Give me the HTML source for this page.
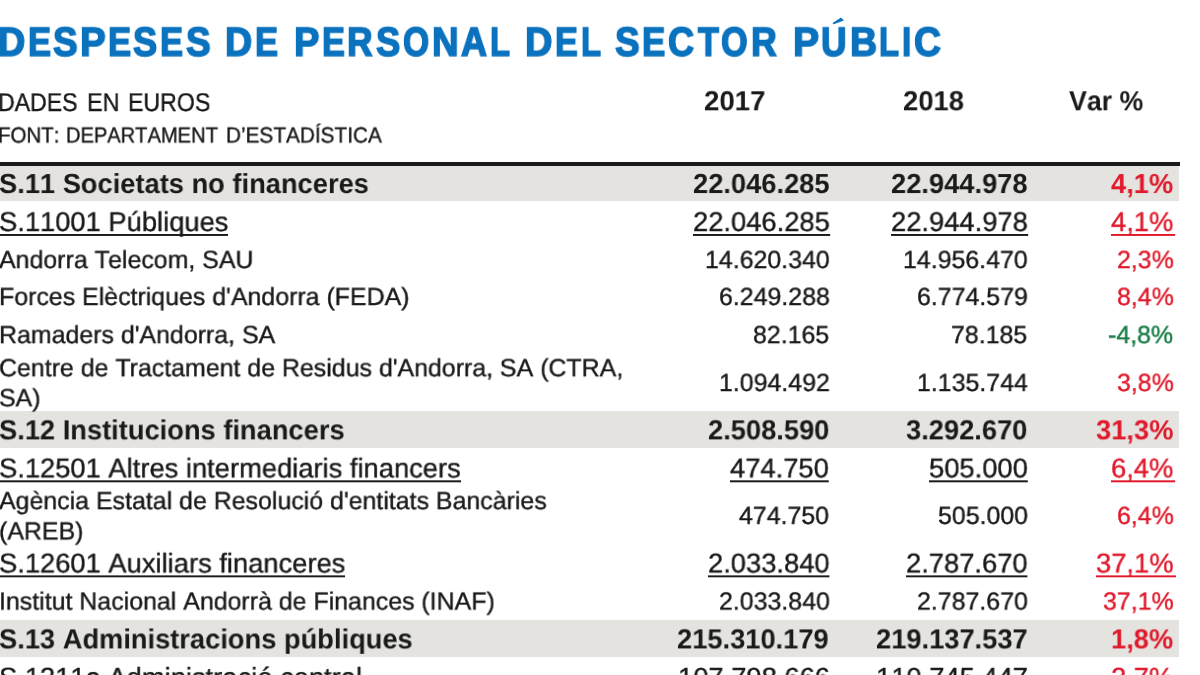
<!DOCTYPE html>
<html lang="ca">
<head>
<meta charset="utf-8">
<title>Despeses de personal del sector públic</title>
<style>
html,body{margin:0;padding:0;}
body{width:1200px;height:675px;overflow:hidden;background:#fff;position:relative;
font-family:"Liberation Sans",sans-serif;color:#1a1a1a;font-kerning:none;text-rendering:geometricPrecision;}
.t{position:absolute;white-space:nowrap;font-weight:400;transform-origin:0 0;will-change:transform;}
.t{-webkit-text-stroke:0.4px currentColor;}
.b{font-weight:700;-webkit-text-stroke:0;}
.u{border-bottom:2px solid currentColor;}
.band{position:absolute;left:0;width:1178.7px;background:#e4e3e0;}
.rule{position:absolute;left:0;width:1179.5px;background:#1a1a1a;}
</style>
</head>
<body>
<div role="heading" aria-level="1" aria-label="DESPESES DE PERSONAL DEL SECTOR PÚBLIC">
<svg class="acc" width="16" height="12" viewBox="830 15 16 12" style="position:absolute;left:830px;top:15px"><polygon points="832.5,23.1 841.1,17.5 843.9,20.6 833.7,24.3" fill="#0b72be"/></svg>
<div class="t b" style="left:-2.00px;top:21px;font-size:40.8px;line-height:40.8px;transform:translateY(0.70px) scale(0.9216,1.0000);color:#0b72be;-webkit-text-stroke:1.6px #0b72be;text-shadow:0.62px 0 0 #0b72be,-0.62px 0 0 #0b72be;">D</div>
<div class="t b" style="left:28.11px;top:21px;font-size:40.8px;line-height:40.8px;transform:translateY(0.70px) scale(0.8394,1.0000);color:#0b72be;-webkit-text-stroke:1.6px #0b72be;text-shadow:0.62px 0 0 #0b72be,-0.62px 0 0 #0b72be;">E</div>
<div class="t b" style="left:53.07px;top:21px;font-size:40.8px;line-height:40.8px;transform:translateY(0.70px) scale(0.9020,1.0000);color:#0b72be;-webkit-text-stroke:1.6px #0b72be;text-shadow:0.62px 0 0 #0b72be,-0.62px 0 0 #0b72be;">S</div>
<div class="t b" style="left:80.05px;top:21px;font-size:40.8px;line-height:40.8px;transform:translateY(0.70px) scale(0.9412,1.0000);color:#0b72be;-webkit-text-stroke:1.6px #0b72be;text-shadow:0.62px 0 0 #0b72be,-0.62px 0 0 #0b72be;">P</div>
<div class="t b" style="left:108.00px;top:21px;font-size:40.8px;line-height:40.8px;transform:translateY(0.70px) scale(0.8437,1.0000);color:#0b72be;-webkit-text-stroke:1.6px #0b72be;text-shadow:0.62px 0 0 #0b72be,-0.62px 0 0 #0b72be;">E</div>
<div class="t b" style="left:133.09px;top:21px;font-size:40.8px;line-height:40.8px;transform:translateY(0.70px) scale(0.8863,1.0000);color:#0b72be;-webkit-text-stroke:1.6px #0b72be;text-shadow:0.62px 0 0 #0b72be,-0.62px 0 0 #0b72be;">S</div>
<div class="t b" style="left:160.31px;top:21px;font-size:40.8px;line-height:40.8px;transform:translateY(0.70px) scale(0.8394,1.0000);color:#0b72be;-webkit-text-stroke:1.6px #0b72be;text-shadow:0.62px 0 0 #0b72be,-0.62px 0 0 #0b72be;">E</div>
<div class="t b" style="left:185.58px;top:21px;font-size:40.8px;line-height:40.8px;transform:translateY(0.70px) scale(0.9020,1.0000);color:#0b72be;-webkit-text-stroke:1.6px #0b72be;text-shadow:0.62px 0 0 #0b72be,-0.62px 0 0 #0b72be;">S</div>
<div class="t b" style="left:225.41px;top:21px;font-size:40.8px;line-height:40.8px;transform:translateY(0.70px) scale(0.9176,1.0000);color:#0b72be;-webkit-text-stroke:1.6px #0b72be;text-shadow:0.62px 0 0 #0b72be,-0.62px 0 0 #0b72be;">D</div>
<div class="t b" style="left:255.31px;top:21px;font-size:40.8px;line-height:40.8px;transform:translateY(0.70px) scale(0.8394,1.0000);color:#0b72be;-webkit-text-stroke:1.6px #0b72be;text-shadow:0.62px 0 0 #0b72be,-0.62px 0 0 #0b72be;">E</div>
<div class="t b" style="left:294.08px;top:21px;font-size:40.8px;line-height:40.8px;transform:translateY(0.70px) scale(0.9306,1.0000);color:#0b72be;-webkit-text-stroke:1.6px #0b72be;text-shadow:0.62px 0 0 #0b72be,-0.62px 0 0 #0b72be;">P</div>
<div class="t b" style="left:321.52px;top:21px;font-size:40.8px;line-height:40.8px;transform:translateY(0.70px) scale(0.8352,1.0000);color:#0b72be;-webkit-text-stroke:1.6px #0b72be;text-shadow:0.62px 0 0 #0b72be,-0.62px 0 0 #0b72be;">E</div>
<div class="t b" style="left:347.39px;top:21px;font-size:40.8px;line-height:40.8px;transform:translateY(0.70px) scale(0.8666,1.0000);color:#0b72be;-webkit-text-stroke:1.6px #0b72be;text-shadow:0.62px 0 0 #0b72be,-0.62px 0 0 #0b72be;">R</div>
<div class="t b" style="left:375.88px;top:21px;font-size:40.8px;line-height:40.8px;transform:translateY(0.70px) scale(0.8902,1.0000);color:#0b72be;-webkit-text-stroke:1.6px #0b72be;text-shadow:0.62px 0 0 #0b72be,-0.62px 0 0 #0b72be;">S</div>
<div class="t b" style="left:403.30px;top:21px;font-size:40.8px;line-height:40.8px;transform:translateY(0.70px) scale(0.8201,1.0000);color:#0b72be;-webkit-text-stroke:1.6px #0b72be;text-shadow:0.62px 0 0 #0b72be,-0.62px 0 0 #0b72be;">O</div>
<div class="t b" style="left:432.16px;top:21px;font-size:40.8px;line-height:40.8px;transform:translateY(0.70px) scale(0.8999,1.0000);color:#0b72be;-webkit-text-stroke:1.6px #0b72be;text-shadow:0.62px 0 0 #0b72be,-0.62px 0 0 #0b72be;">N</div>
<div class="t b" style="left:461.39px;top:21px;font-size:40.8px;line-height:40.8px;transform:translateY(0.70px) scale(0.8806,1.0000);color:#0b72be;-webkit-text-stroke:1.6px #0b72be;text-shadow:0.62px 0 0 #0b72be,-0.62px 0 0 #0b72be;">A</div>
<div class="t b" style="left:490.06px;top:21px;font-size:40.8px;line-height:40.8px;transform:translateY(0.70px) scale(0.8005,1.0000);color:#0b72be;-webkit-text-stroke:1.6px #0b72be;text-shadow:0.62px 0 0 #0b72be,-0.62px 0 0 #0b72be;">L</div>
<div class="t b" style="left:525.09px;top:21px;font-size:40.8px;line-height:40.8px;transform:translateY(0.70px) scale(0.9255,1.0000);color:#0b72be;-webkit-text-stroke:1.6px #0b72be;text-shadow:0.62px 0 0 #0b72be,-0.62px 0 0 #0b72be;">D</div>
<div class="t b" style="left:554.98px;top:21px;font-size:40.8px;line-height:40.8px;transform:translateY(0.70px) scale(0.8331,1.0000);color:#0b72be;-webkit-text-stroke:1.6px #0b72be;text-shadow:0.62px 0 0 #0b72be,-0.62px 0 0 #0b72be;">E</div>
<div class="t b" style="left:580.70px;top:21px;font-size:40.8px;line-height:40.8px;transform:translateY(0.70px) scale(0.8028,1.0000);color:#0b72be;-webkit-text-stroke:1.6px #0b72be;text-shadow:0.62px 0 0 #0b72be,-0.62px 0 0 #0b72be;">L</div>
<div class="t b" style="left:615.27px;top:21px;font-size:40.8px;line-height:40.8px;transform:translateY(0.70px) scale(0.9020,1.0000);color:#0b72be;-webkit-text-stroke:1.6px #0b72be;text-shadow:0.62px 0 0 #0b72be,-0.62px 0 0 #0b72be;">S</div>
<div class="t b" style="left:642.42px;top:21px;font-size:40.8px;line-height:40.8px;transform:translateY(0.70px) scale(0.8543,1.0000);color:#0b72be;-webkit-text-stroke:1.6px #0b72be;text-shadow:0.62px 0 0 #0b72be,-0.62px 0 0 #0b72be;">E</div>
<div class="t b" style="left:667.82px;top:21px;font-size:40.8px;line-height:40.8px;transform:translateY(0.70px) scale(0.8828,1.0000);color:#0b72be;-webkit-text-stroke:1.6px #0b72be;text-shadow:0.62px 0 0 #0b72be,-0.62px 0 0 #0b72be;">C</div>
<div class="t b" style="left:697.65px;top:21px;font-size:40.8px;line-height:40.8px;transform:translateY(0.70px) scale(0.8346,1.0000);color:#0b72be;-webkit-text-stroke:1.6px #0b72be;text-shadow:0.62px 0 0 #0b72be,-0.62px 0 0 #0b72be;">T</div>
<div class="t b" style="left:721.03px;top:21px;font-size:40.8px;line-height:40.8px;transform:translateY(0.70px) scale(0.8372,1.0000);color:#0b72be;-webkit-text-stroke:1.6px #0b72be;text-shadow:0.62px 0 0 #0b72be,-0.62px 0 0 #0b72be;">O</div>
<div class="t b" style="left:750.73px;top:21px;font-size:40.8px;line-height:40.8px;transform:translateY(0.70px) scale(0.8723,1.0000);color:#0b72be;-webkit-text-stroke:1.6px #0b72be;text-shadow:0.62px 0 0 #0b72be,-0.62px 0 0 #0b72be;">R</div>
<div class="t b" style="left:792.72px;top:21px;font-size:40.8px;line-height:40.8px;transform:translateY(0.70px) scale(0.9539,1.0000);color:#0b72be;-webkit-text-stroke:1.6px #0b72be;text-shadow:0.62px 0 0 #0b72be,-0.62px 0 0 #0b72be;">P</div>
<div class="t b" style="left:821.30px;top:21px;font-size:40.8px;line-height:40.8px;transform:translateY(0.70px) scale(0.8647,1.0000);color:#0b72be;-webkit-text-stroke:1.6px #0b72be;text-shadow:0.62px 0 0 #0b72be,-0.62px 0 0 #0b72be;">U</div>
<div class="t b" style="left:849.76px;top:21px;font-size:40.8px;line-height:40.8px;transform:translateY(0.70px) scale(0.9157,1.0000);color:#0b72be;-webkit-text-stroke:1.6px #0b72be;text-shadow:0.62px 0 0 #0b72be,-0.62px 0 0 #0b72be;">B</div>
<div class="t b" style="left:879.01px;top:21px;font-size:40.8px;line-height:40.8px;transform:translateY(0.70px) scale(0.7982,1.0000);color:#0b72be;-webkit-text-stroke:1.6px #0b72be;text-shadow:0.62px 0 0 #0b72be,-0.62px 0 0 #0b72be;">L</div>
<div class="t b" style="left:901.87px;top:21px;font-size:40.8px;line-height:40.8px;transform:translateY(0.70px) scale(0.8157,1.0000);color:#0b72be;-webkit-text-stroke:1.6px #0b72be;text-shadow:0.62px 0 0 #0b72be,-0.62px 0 0 #0b72be;">I</div>
<div class="t b" style="left:913.99px;top:21px;font-size:40.8px;line-height:40.8px;transform:translateY(0.70px) scale(0.9120,1.0000);color:#0b72be;-webkit-text-stroke:1.6px #0b72be;text-shadow:0.62px 0 0 #0b72be,-0.62px 0 0 #0b72be;">C</div>
</div>
<div role="table" aria-label="Despeses de personal del sector públic, dades en euros">
<div class="rule" style="top:162.3px;height:3.6px"></div>
<div class="band" style="top:165.5px;height:35.75px"></div>
<div class="band" style="top:411.4px;height:36.7px"></div>
<div class="band" style="top:620px;height:37.3px"></div>
<div class="t" style="left:-1.60px;top:91px;font-size:25.6px;line-height:25.6px;transform:translateY(0.00px) scale(0.9031,1.0000);">DADES</div>
<div class="t" style="left:86.83px;top:91px;font-size:25.6px;line-height:25.6px;transform:translateY(0.00px) scale(0.9163,1.0000);">EN</div>
<div class="t" style="left:127.50px;top:91px;font-size:25.6px;line-height:25.6px;transform:translateY(0.00px) scale(0.9041,1.0000);">EUROS</div>
<div class="t" style="left:-1.90px;top:124px;font-size:21.8px;line-height:21.8px;transform:translateY(0.50px) scale(0.9403,1.0000);">FONT:</div>
<div class="t" style="left:66.43px;top:124px;font-size:21.8px;line-height:21.8px;transform:translateY(0.50px) scale(0.9218,1.0000);">DEPARTAMENT</div>
<div class="t" style="left:226.13px;top:124px;font-size:21.8px;line-height:21.8px;transform:translateY(0.50px) scale(0.9528,1.0000);">D’ESTADÍSTICA</div>
<div class="t b" style="left:704.14px;top:87px;font-size:27.7px;line-height:27.7px;transform:translateY(0.30px) scale(0.9961,1.0000);">2017</div>
<div class="t b" style="left:902.54px;top:87px;font-size:27.7px;line-height:27.7px;transform:translateY(0.30px) scale(0.9889,1.0000);">2018</div>
<div class="t b" style="left:1068.80px;top:87px;font-size:27.7px;line-height:27.7px;transform:translateY(0.30px) scale(0.9661,1.0000);">Var %</div>
<div class="t b" style="left:-1.20px;top:170px;font-size:27.7px;line-height:27.7px;transform:translateY(0.05px) scale(0.9850,1.0000);">S.11 Societats no financeres</div>
<div class="t b" style="left:692.62px;top:170px;font-size:27.7px;line-height:27.7px;transform:translateY(0.05px) scale(0.9850,1.0000);">22.046.285</div>
<div class="t b" style="left:890.82px;top:170px;font-size:27.7px;line-height:27.7px;transform:translateY(0.05px) scale(0.9850,1.0000);">22.944.978</div>
<div class="t b" style="left:1110.90px;top:170px;font-size:27.7px;line-height:27.7px;transform:translateY(0.05px) scale(0.9850,1.0000);color:#e01a2c;">4,1%</div>
<div class="t u" style="left:-1.20px;top:208px;font-size:27.7px;line-height:27.7px;transform:translateY(0.44px) scale(0.9870,0.9810);height:25.8px;">S.11001 Públiques</div>
<div class="t u" style="left:692.78px;top:208px;font-size:27.7px;line-height:27.7px;transform:translateY(0.44px) scale(0.9870,0.9810);height:25.8px;">22.046.285</div>
<div class="t u" style="left:890.98px;top:208px;font-size:27.7px;line-height:27.7px;transform:translateY(0.44px) scale(0.9870,0.9810);height:25.8px;">22.944.978</div>
<div class="t u" style="left:1111.20px;top:208px;font-size:27.7px;line-height:27.7px;transform:translateY(0.44px) scale(0.9870,0.9810);height:25.8px;color:#e01a2c;padding-right:2px;">4,1%</div>
<div class="t" style="left:-1.20px;top:248px;font-size:25.3px;line-height:25.3px;transform:translateY(0.43px) scale(0.9850,0.9810);">Andorra <span style="letter-spacing:-1.8px">T</span>elecom, SAU</div>
<div class="t" style="left:704.73px;top:248px;font-size:25.3px;line-height:25.3px;transform:translateY(0.43px) scale(0.9850,0.9810);">14.620.340</div>
<div class="t" style="left:902.93px;top:248px;font-size:25.3px;line-height:25.3px;transform:translateY(0.43px) scale(0.9850,0.9810);">14.956.470</div>
<div class="t" style="left:1116.78px;top:248px;font-size:25.3px;line-height:25.3px;transform:translateY(0.43px) scale(0.9850,0.9810);color:#e01a2c;">2,3%</div>
<div class="t" style="left:-1.20px;top:285px;font-size:25.3px;line-height:25.3px;transform:translateY(0.38px) scale(0.9850,0.9810);">Forces Elèctriques d'Andorra (FEDA)</div>
<div class="t" style="left:718.69px;top:285px;font-size:25.3px;line-height:25.3px;transform:translateY(0.38px) scale(0.9850,0.9810);">6.249.288</div>
<div class="t" style="left:916.99px;top:285px;font-size:25.3px;line-height:25.3px;transform:translateY(0.38px) scale(0.9850,0.9810);">6.774.579</div>
<div class="t" style="left:1116.78px;top:285px;font-size:25.3px;line-height:25.3px;transform:translateY(0.38px) scale(0.9850,0.9810);color:#e01a2c;">8,4%</div>
<div class="t" style="left:-1.20px;top:323px;font-size:25.3px;line-height:25.3px;transform:translateY(0.48px) scale(0.9850,0.9810);">Ramaders d'Andorra, SA</div>
<div class="t" style="left:753.23px;top:323px;font-size:25.3px;line-height:25.3px;transform:translateY(0.48px) scale(0.9850,0.9810);">82.165</div>
<div class="t" style="left:951.43px;top:323px;font-size:25.3px;line-height:25.3px;transform:translateY(0.48px) scale(0.9850,0.9810);">78.185</div>
<div class="t" style="left:1108.48px;top:323px;font-size:25.3px;line-height:25.3px;transform:translateY(0.48px) scale(0.9850,0.9810);color:#167c43;">-4,8%</div>
<div class="t" style="left:-1.20px;top:356px;font-size:25.3px;line-height:25.3px;transform:translateY(0.58px) scale(0.9850,0.9810);">Centre de <span style="letter-spacing:-1.0px">T</span>ractament de Residus d'Andorra, SA (CTRA,</div>
<div class="t" style="left:-1.20px;top:386px;font-size:25.3px;line-height:25.3px;transform:translateY(0.58px) scale(0.9850,0.9810);">SA)</div>
<div class="t" style="left:718.89px;top:371px;font-size:25.3px;line-height:25.3px;transform:translateY(0.38px) scale(0.9850,0.9810);">1.094.492</div>
<div class="t" style="left:916.50px;top:371px;font-size:25.3px;line-height:25.3px;transform:translateY(0.38px) scale(0.9850,0.9810);">1.135.744</div>
<div class="t" style="left:1116.78px;top:371px;font-size:25.3px;line-height:25.3px;transform:translateY(0.38px) scale(0.9850,0.9810);color:#e01a2c;">3,8%</div>
<div class="t b" style="left:-1.20px;top:416px;font-size:27.7px;line-height:27.7px;transform:translateY(0.35px) scale(0.9850,1.0000);">S.12 Institucions financers</div>
<div class="t b" style="left:708.22px;top:416px;font-size:27.7px;line-height:27.7px;transform:translateY(0.35px) scale(0.9850,1.0000);">2.508.590</div>
<div class="t b" style="left:906.42px;top:416px;font-size:27.7px;line-height:27.7px;transform:translateY(0.35px) scale(0.9850,1.0000);">3.292.670</div>
<div class="t b" style="left:1095.72px;top:416px;font-size:27.7px;line-height:27.7px;transform:translateY(0.35px) scale(0.9850,1.0000);color:#e01a2c;">31,3%</div>
<div class="t u" style="left:-1.20px;top:454px;font-size:27.7px;line-height:27.7px;transform:translateY(0.79px) scale(0.9870,0.9810);height:25.8px;">S.12501 Altres intermediaris financers</div>
<div class="t u" style="left:730.35px;top:454px;font-size:27.7px;line-height:27.7px;transform:translateY(0.79px) scale(0.9870,0.9810);height:25.8px;">474.750</div>
<div class="t u" style="left:928.55px;top:454px;font-size:27.7px;line-height:27.7px;transform:translateY(0.79px) scale(0.9870,0.9810);height:25.8px;">505.000</div>
<div class="t u" style="left:1111.20px;top:454px;font-size:27.7px;line-height:27.7px;transform:translateY(0.79px) scale(0.9870,0.9810);height:25.8px;color:#e01a2c;padding-right:2px;">6,4%</div>
<div class="t" style="left:-1.20px;top:489px;font-size:25.3px;line-height:25.3px;transform:translateY(0.48px) scale(0.9850,0.9810);">Agència Estatal de Resolució d'entitats Bancàries</div>
<div class="t" style="left:-1.20px;top:519px;font-size:25.3px;line-height:25.3px;transform:translateY(0.78px) scale(0.9850,0.9810);">(AREB)</div>
<div class="t" style="left:739.37px;top:504px;font-size:25.3px;line-height:25.3px;transform:translateY(0.28px) scale(0.9850,0.9810);">474.750</div>
<div class="t" style="left:937.57px;top:504px;font-size:25.3px;line-height:25.3px;transform:translateY(0.28px) scale(0.9850,0.9810);">505.000</div>
<div class="t" style="left:1116.78px;top:504px;font-size:25.3px;line-height:25.3px;transform:translateY(0.28px) scale(0.9850,0.9810);color:#e01a2c;">6,4%</div>
<div class="t u" style="left:-1.20px;top:549px;font-size:27.7px;line-height:27.7px;transform:translateY(0.84px) scale(0.9870,0.9810);height:25.8px;">S.12601 Auxiliars financeres</div>
<div class="t u" style="left:707.55px;top:549px;font-size:27.7px;line-height:27.7px;transform:translateY(0.84px) scale(0.9870,0.9810);height:25.8px;">2.033.840</div>
<div class="t u" style="left:905.75px;top:549px;font-size:27.7px;line-height:27.7px;transform:translateY(0.84px) scale(0.9870,0.9810);height:25.8px;">2.787.670</div>
<div class="t u" style="left:1095.99px;top:549px;font-size:27.7px;line-height:27.7px;transform:translateY(0.84px) scale(0.9870,0.9810);height:25.8px;color:#e01a2c;padding-right:2px;">37,1%</div>
<div class="t" style="left:-1.20px;top:589px;font-size:25.3px;line-height:25.3px;transform:translateY(0.93px) scale(0.9850,0.9810);">Institut Nacional Andorrà de Finances (INAF)</div>
<div class="t" style="left:718.59px;top:589px;font-size:25.3px;line-height:25.3px;transform:translateY(0.93px) scale(0.9850,0.9810);">2.033.840</div>
<div class="t" style="left:916.79px;top:589px;font-size:25.3px;line-height:25.3px;transform:translateY(0.93px) scale(0.9850,0.9810);">2.787.670</div>
<div class="t" style="left:1102.92px;top:589px;font-size:25.3px;line-height:25.3px;transform:translateY(0.93px) scale(0.9850,0.9810);color:#e01a2c;">37,1%</div>
<div class="t b" style="left:-1.20px;top:625px;font-size:27.7px;line-height:27.7px;transform:translateY(0.40px) scale(0.9850,1.0000);">S.13 Administracions públiques</div>
<div class="t b" style="left:677.45px;top:625px;font-size:27.7px;line-height:27.7px;transform:translateY(0.40px) scale(0.9850,1.0000);">215.310.179</div>
<div class="t b" style="left:876.08px;top:625px;font-size:27.7px;line-height:27.7px;transform:translateY(0.40px) scale(0.9850,1.0000);">219.137.537</div>
<div class="t b" style="left:1110.90px;top:625px;font-size:27.7px;line-height:27.7px;transform:translateY(0.40px) scale(0.9850,1.0000);color:#e01a2c;">1,8%</div>
<div class="t u" style="left:-1.20px;top:664px;font-size:27.7px;line-height:27.7px;transform:translateY(0.04px) scale(0.9870,0.9810);height:25.8px;">S.1311a Administració central</div>
<div class="t u" style="left:677.57px;top:664px;font-size:27.7px;line-height:27.7px;transform:translateY(0.04px) scale(0.9870,0.9810);height:25.8px;">107.798.666</div>
<div class="t u" style="left:875.77px;top:664px;font-size:27.7px;line-height:27.7px;transform:translateY(0.04px) scale(0.9870,0.9810);height:25.8px;">110.745.447</div>
<div class="t u" style="left:1111.20px;top:664px;font-size:27.7px;line-height:27.7px;transform:translateY(0.04px) scale(0.9870,0.9810);height:25.8px;color:#e01a2c;padding-right:2px;">2,7%</div>
</div>
</body>
</html>
